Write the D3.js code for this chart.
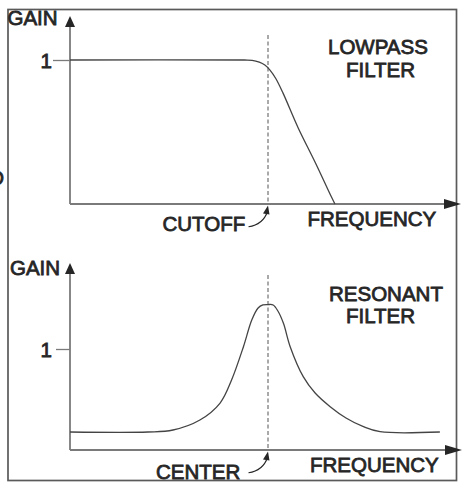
<!DOCTYPE html>
<html><head><meta charset="utf-8">
<script src="https://cdn.jsdelivr.net/npm/d3@7"></script>
<style>body{margin:0;background:#fff}svg{display:block}text{font-family:"Liberation Sans",Arial,sans-serif;}</style>
</head><body>
<svg id="c" width="463" height="482"></svg>
<script>
// ---- data ----
const lowpassFreq = [0, 44, 46, 47.8, 49.2, 50.5, 52, 53.8, 57.6, 61.9, 66.0, 66.9];
const lowpassGain = [1, 1, 0.998, 0.985, 0.965, 0.93, 0.87, 0.77, 0.53, 0.29, 0.05, 0];
const resonantFreq = [0, 19.7, 26.0, 32.8, 37.9, 40.8, 43.8, 45.9, 47.5, 48.7, 50, 51.3, 52.5, 53.9, 55.6, 58.9, 61.9, 65.7, 69.7, 74.1, 78.3, 93.4];
const resonantGain = [0.178, 0.178, 0.198, 0.297, 0.465, 0.693, 1.023, 1.287, 1.406, 1.436, 1.44, 1.436, 1.376, 1.254, 1.023, 0.726, 0.564, 0.429, 0.317, 0.231, 0.181, 0.178];
const gainTicks = [1];
const markerFreq = 50;
const axisLabels = {y: "GAIN", x: "FREQUENCY"};
const titlesTop = ["LOWPASS", "FILTER"];
const titlesBottom = ["RESONANT", "FILTER"];
const markerLabels = ["CUTOFF", "CENTER"];

// ---- layout ----
const svg = d3.select("#c");
const ink = "#262626", axisCol = "#7a7a7a", curveCol = "#444";
const x = d3.scaleLinear().domain([0, 100]).range([70, 466]);
const yTop = d3.scaleLinear().domain([0, 1]).range([204, 60]);
const yBot = d3.scaleLinear().domain([0, 1]).range([450, 349]);

// frame
svg.append("rect").attr("x", 8).attr("y", 9.5).attr("width", 448.5).attr("height", 471)
  .attr("fill", "none").attr("stroke", "#5a5a5a").attr("stroke-width", 1.7);

// clipped letter at left edge
svg.append("text").attr("x", 4).attr("y", 185).attr("text-anchor", "end")
  .attr("font-size", 20.5).attr("fill", ink).attr("stroke", ink).attr("stroke-width", 0.8).text("D");

function txt(s, xx, yy, anchor) {
  return svg.append("text").attr("x", xx).attr("y", yy).attr("text-anchor", anchor || "start")
    .attr("font-size", 20.5).attr("fill", ink).attr("stroke", ink).attr("stroke-width", 0.8).text(s);
}

function panel(y, yTopPx, xEnd, tickSize, tickPad, dashTop, fx, fy) {
  const x0 = x(0), y0 = y(0);
  const g = svg.append("g");
  const ax = g.append("g").attr("transform", `translate(${x0},0)`)
    .call(d3.axisLeft(y).tickValues(gainTicks).tickSize(tickSize).tickPadding(tickPad).tickFormat(d3.format("d")));
  ax.select(".domain").remove();
  ax.selectAll("line").attr("stroke", axisCol).attr("stroke-width", 1.3);
  ax.selectAll("text").attr("font-size", 20.5).attr("font-family", '"Liberation Sans",Arial,sans-serif')
    .attr("fill", ink).attr("stroke", ink).attr("stroke-width", 0.8).attr("dy", "0.36em");
  g.append("line").attr("x1", x0).attr("x2", x0).attr("y1", yTopPx + 10).attr("y2", y0)
    .attr("stroke", axisCol).attr("stroke-width", 1.8);
  g.append("line").attr("x1", x0).attr("x2", xEnd - 16).attr("y1", y0).attr("y2", y0)
    .attr("stroke", axisCol).attr("stroke-width", 2);
  g.append("path").attr("d", `M${x0},${yTopPx} L${x0 - 5},${yTopPx + 11} L${x0 + 5},${yTopPx + 11} Z`).attr("fill", ink);
  g.append("path").attr("d", `M${xEnd},${y0} L${xEnd - 17},${y0 - 5} L${xEnd - 17},${y0 + 5} Z`).attr("fill", ink);
  g.append("line").attr("x1", x(markerFreq)).attr("x2", x(markerFreq)).attr("y1", dashTop).attr("y2", y0 - 2)
    .attr("stroke", "#555").attr("stroke-width", 1).attr("stroke-dasharray", "4,2.5");
  const pts = fx.map((f, i) => [f, fy[i]]);
  g.append("path").datum(pts)
    .attr("d", d3.line().x(d => x(d[0])).y(d => y(d[1])).curve(d3.curveCatmullRom.alpha(0.5)))
    .attr("fill", "none").attr("stroke", curveCol).attr("stroke-width", 1.3);
}

panel(yTop, 16, 461, 17, 1, 35, lowpassFreq, lowpassGain);
panel(yBot, 263, 462, 14, 4, 275, resonantFreq, resonantGain);

// labels
txt(axisLabels.y, 7.5, 25);
txt(axisLabels.y, 10, 275);
txt(axisLabels.x, 307.5, 225.7);
txt(axisLabels.x, 310, 471.7);
txt(titlesTop[0], 328, 54);
txt(titlesTop[1], 346, 76.7);
txt(titlesBottom[0], 329, 300.7);
txt(titlesBottom[1], 346, 323.3);
txt(markerLabels[0], 162.5, 230.7);
txt(markerLabels[1], 156, 479);

// curved pointer arrows
function pointer(sx, sy, tx, ty) {
  svg.append("path").attr("d", `M${sx},${sy} Q${tx - 5},${sy - 2} ${tx - 0.5},${ty + 6}`)
    .attr("fill", "none").attr("stroke", ink).attr("stroke-width", 1.1);
  svg.append("path").attr("d", `M${tx},${ty} L${tx - 5},${ty + 8} L${tx + 1.5},${ty + 9} Z`).attr("fill", ink);
}
pointer(248.5, 226.7, x(markerFreq), 205.5);
pointer(248.5, 472.7, x(markerFreq), 451.5);
</script>
</body></html>
